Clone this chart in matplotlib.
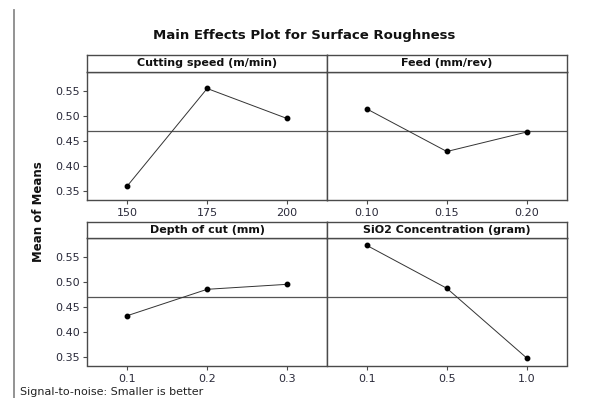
import numpy as np
import matplotlib
matplotlib.use('Agg')
import matplotlib.pyplot as plt

# factor levels and mean of means
factors = ['Cutting speed (m/min)', 'Feed (mm/rev)',
           'Depth of cut (mm)', 'SiO2 Concentration (gram)']
levels = [['150', '175', '200'],
          ['0.10', '0.15', '0.20'],
          ['0.1', '0.2', '0.3'],
          ['0.1', '0.5', '1.0']]
speed_means = [0.360, 0.555, 0.495]
feed_means = [0.514, 0.429, 0.468]
depth_means = [0.432, 0.485, 0.495]
sio2_means = [0.573, 0.487, 0.347]
means = [speed_means, feed_means, depth_means, sio2_means]
grand_mean = 0.470

yticks = [0.35, 0.40, 0.45, 0.50, 0.55]
ylim = (0.332, 0.588)

W, H = 591, 398
fig = plt.figure(figsize=(W/100., H/100.), dpi=100)

edge = '#4a4a4a'
txt = '#2a2a3a'

#panel boxes in pixel coords: left edge, then (strip top, strip bottom, plot bottom)
lefts = [87.3, 327, 87.3, 327]
rows = [(55, 72, 200), (55, 72, 200), (222, 238, 365.5), (222, 238, 365.5)]
pw = 239.7

for i in range(4):
  x0 = lefts[i]
  st, sb, pb = rows[i]
  ax = fig.add_axes([x0/W, 1-pb/H, pw/W, (pb-sb)/H])
  sax = fig.add_axes([x0/W, 1-sb/H, pw/W, (sb-st)/H])

  xs = np.arange(len(levels[i]))
  ax.axhline(grand_mean, color='#555555', lw=0.9, zorder=1)
  ax.plot(xs, means[i], color='#333333', lw=0.7, marker='o', ms=3.2,
          mfc='black', mec='black', zorder=3)
  ax.set_xlim(-0.5, 2.5)
  ax.set_ylim(*ylim)
  ax.set_xticks(xs)
  ax.set_xticklabels(levels[i])
  ax.set_yticks(yticks)
  if i % 2 == 0:
    ax.set_yticklabels(['%.2f' % v for v in yticks])
    ax.tick_params(axis='y', length=3, width=0.8, pad=2, color=edge,
                   labelsize=8, labelcolor=txt)
  else:
    ax.tick_params(axis='y', left=False, labelleft=False)
  ax.tick_params(axis='x', length=3, width=0.8, pad=3, color=edge,
                 labelsize=8, labelcolor=txt)
  for sp in ax.spines.values():
    sp.set_color(edge)
    sp.set_linewidth(1.0)

  sax.set_xticks([])
  sax.set_yticks([])
  for sp in sax.spines.values():
    sp.set_color(edge)
    sp.set_linewidth(1.0)
  sax.text(0.5, 0.5, factors[i], ha='center', va='center',
           fontsize=8, fontweight='bold', color='#111111',
           transform=sax.transAxes)

fig.text(304/W, 1-36/H, 'Main Effects Plot for Surface Roughness',
         ha='center', va='center', fontsize=9.5, fontweight='bold',
         color='#111111')
fig.text(39/W, 1-212/H, 'Mean of Means', rotation=90, ha='center',
         va='center', fontsize=8.5, fontweight='bold', color='#111111')
fig.text(20/W, 1-392/H, 'Signal-to-noise: Smaller is better',
         ha='left', va='center', fontsize=8, color='#222222')

#page edge line on the left
fig.add_artist(plt.Line2D([14/W, 14/W], [0, 1-10/H], color='#8a8a8a',
                          lw=1.3, transform=fig.transFigure))

fig.savefig('out.png', dpi=100)
